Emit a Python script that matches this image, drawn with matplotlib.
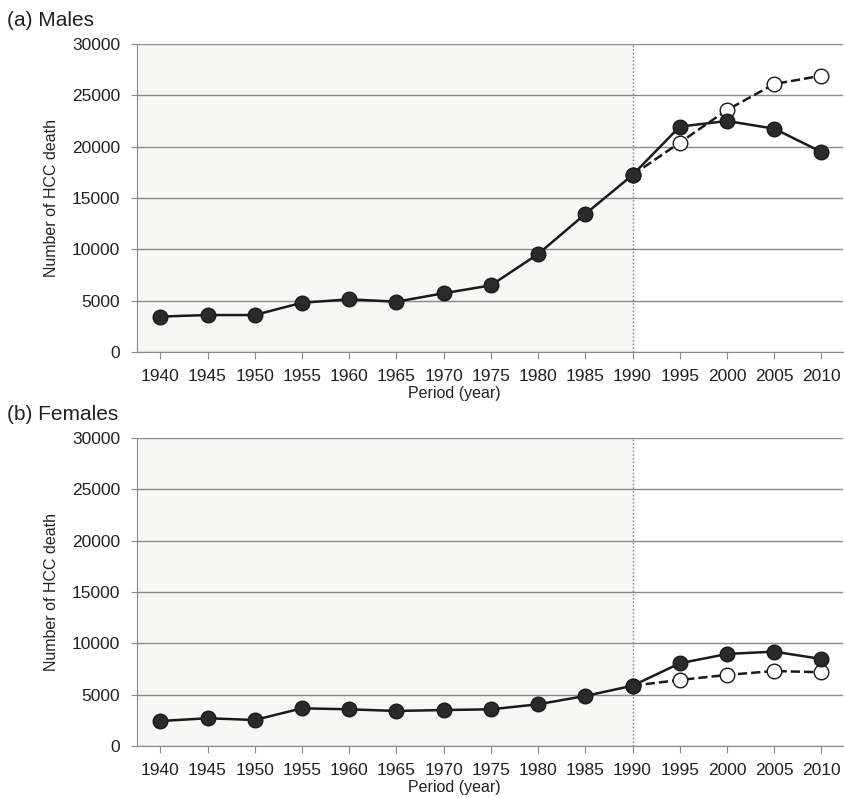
import matplotlib
matplotlib.use("Agg")
import matplotlib.pyplot as plt
import numpy as np

plt.rcParams['font.family'] = ['Liberation Sans', 'DejaVu Sans']

years = [1940, 1945, 1950, 1955, 1960, 1965, 1970, 1975, 1980, 1985, 1990, 1995, 2000, 2005, 2010]
proj_years = [1990, 1995, 2000, 2005, 2010]

# observed/actual HCC deaths (filled markers)
males = [3450, 3600, 3600, 4800, 5130, 4900, 5720, 6490, 9540, 13440, 17240, 21950, 22500, 21750, 19480]
females = [2430, 2700, 2530, 3670, 3570, 3410, 3500, 3570, 4060, 4870, 5870, 8050, 8960, 9190, 8470]

# projected (open markers, dashed)
males_proj = [17240, 20390, 23570, 26100, 26910]
females_proj = [5870, 6430, 6920, 7300, 7180]

panels = [("(a) Males", males, males_proj), ("(b) Females", females, females_proj)]

fig = plt.figure(figsize=(8.44, 7.98), dpi=100)
axes_pos = [[0.162, 0.5589, 0.837, 0.386], [0.162, 0.0652, 0.837, 0.386]]

for (title, obs, proj), pos in zip(panels, axes_pos):
    ax = fig.add_axes(pos)
    ax.set_xlim(1937.5, 2012.3)
    ax.set_ylim(0, 30000)
    ax.axvspan(1937.5, 1990, color='#f7f7f5', zorder=0)
    ax.axvline(1990, color='#777777', linestyle=':', linewidth=1, zorder=1)
    ax.set_yticks(range(0, 30001, 5000))
    ax.set_xticks(years)
    ax.grid(axis='y', color='#8a8a8a', linewidth=1)
    ax.set_axisbelow(True)
    for s in ['top', 'right']:
        ax.spines[s].set_visible(False)
    for s in ['left', 'bottom']:
        ax.spines[s].set_color('#8a8a8a')
    ax.tick_params(axis='both', colors='#8a8a8a', labelcolor='#222222', labelsize=12.5)
    ax.tick_params(axis='y', length=4, pad=8)
    ax.tick_params(axis='x', length=5, pad=7)

    ax.plot(proj_years, proj, color='#1a1a1a', linestyle='--', linewidth=1.8,
            marker='o', markersize=10.5, markerfacecolor='white',
            markeredgecolor='#1a1a1a', markeredgewidth=1.0, zorder=3)
    ax.plot(years, obs, color='#1a1a1a', linewidth=1.8, marker='o',
            markersize=10.5, markerfacecolor='#2a2a2a', markeredgecolor='#1a1a1a', zorder=4)

    ax.set_ylabel("Number of HCC death", fontsize=11.5, color='#222222', labelpad=9)
    ax.set_xlabel("Period (year)", fontsize=11.5, color='#222222')
    ax.xaxis.set_label_coords(0.45, -0.112)
    fig.text(0.008, pos[1] + pos[3] + 0.03, title, fontsize=15, color='#222222',
             ha='left', va='center')

fig.savefig("out.png", dpi=100)
